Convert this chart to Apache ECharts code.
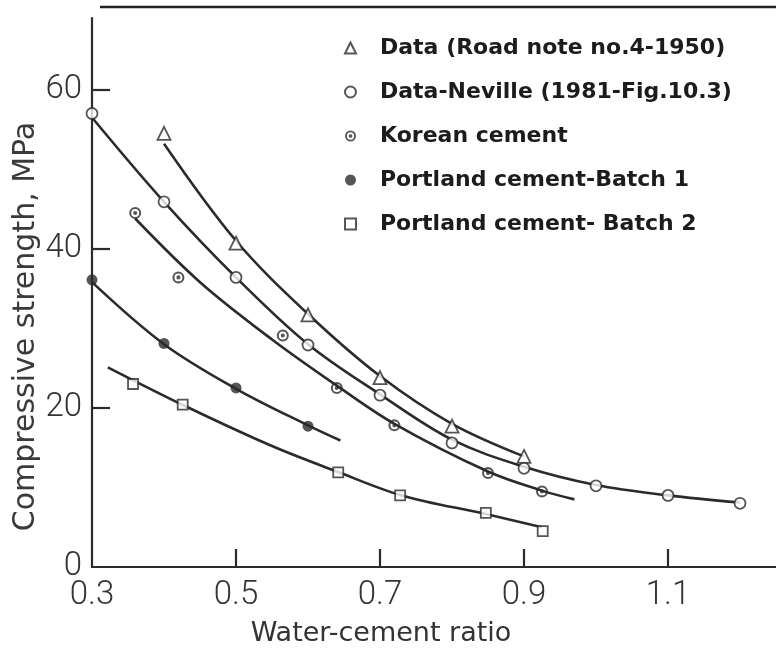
<!DOCTYPE html>
<html>
<head>
<meta charset="utf-8">
<script src="https://cdn.jsdelivr.net/npm/echarts@6/dist/echarts.min.js"></script>
<style>
html,body{margin:0;padding:0;background:#fff;}
#chart{width:776px;height:650px;}
</style>
</head>
<body>
<div id="chart"></div>
<script>
// tick labels
var xTickLabels = [0.3, 0.5, 0.7, 0.9, 1.1];
var xTicks = [0.5, 0.7, 0.9, 1.1];
var yTickLabels = [0, 20, 40, 60];
var yTicks = [20, 40, 60];

var seriesNames = [
	'Data (Road note no.4-1950)',
	'Data-Neville (1981-Fig.10.3)',
	'Korean cement',
	'Portland cement-Batch 1',
	'Portland cement- Batch 2'
];

// measured points [w/c ratio, MPa]
var roadPts = [[0.4,54.5],[0.5,40.7],[0.6,31.7],[0.7,23.8],[0.8,17.7],[0.9,13.9]];
var nevillePts = [[0.3,57.0],[0.4,45.9],[0.5,36.4],[0.6,27.9],[0.7,21.6],[0.8,15.6],[0.9,12.4],[1.0,10.2],[1.1,9.0],[1.2,8.0]];
var koreanPts = [[0.36,44.5],[0.42,36.4],[0.565,29.1],[0.64,22.5],[0.72,17.8],[0.85,11.8],[0.925,9.5]];
var batch1Pts = [[0.3,36.1],[0.4,28.1],[0.5,22.5],[0.6,17.7]];
var batch2Pts = [[0.357,23.0],[0.426,20.4],[0.642,11.9],[0.728,9.0],[0.847,6.8],[0.926,4.5]];

// fitted curves as drawn in the figure
var roadCurve = [[0.4,53.2],[0.5,41.0],[0.6,31.8],[0.7,24.0],[0.8,18.0],[0.9,13.9]];
var nevilleCurve = [[0.3,56.5],[0.4,45.9],[0.5,36.4],[0.6,28.0],[0.7,21.7],[0.8,16.0],[0.9,12.6],[1.0,10.3],[1.1,9.0],[1.2,8.1]];
var koreanCurve = [[0.36,43.8],[0.45,35.8],[0.55,28.6],[0.64,22.8],[0.72,18.0],[0.85,12.0],[0.925,9.6],[0.97,8.5]];
var batch1Curve = [[0.3,35.8],[0.4,28.0],[0.5,22.4],[0.6,17.8],[0.645,15.9]];
var batch2Curve = [[0.322,25.1],[0.43,20.2],[0.55,15.2],[0.64,12.0],[0.73,9.0],[0.85,6.6],[0.925,5.0]];

var ink = '#2b2b2b';
// ring with a dot in the middle
var dotRing = 'path://M10,0 A10,10 0 1,1 10,20 A10,10 0 1,1 10,0 Z M10,3.4 A6.6,6.6 0 1,0 10,16.6 A6.6,6.6 0 1,0 10,3.4 Z M10,6.6 A3.4,3.4 0 1,1 10,13.4 A3.4,3.4 0 1,1 10,6.6 Z';

function curve(name, data){
	return {
		name: name, type: 'line', data: data, smooth: 0.35,
		showSymbol: false, silent: true, z: 2,
		lineStyle: {color: ink, width: 2.6}
	};
}
function marks(name, data, symbol, size, fill){
	return {
		name: name, type: 'scatter', data: data, symbol: symbol, symbolSize: size, z: 5,
		itemStyle: {color: fill, borderColor: ink, borderWidth: fill == ink ? 0 : 1.8}
	};
}

var myChart = echarts.init(document.getElementById('chart'));
var option = {
	backgroundColor: '#fff',
	animation: false,
	grid: {left: 92, right: 0, top: 18, bottom: 83, outerBoundsMode: 'none'},
	legend: {
		orient: 'vertical',
		left: 339,
		top: 32,
		itemWidth: 11,
		itemHeight: 11,
		itemGap: 22,
		textStyle: {fontFamily: 'DejaVu Sans', fontWeight: 'bold', fontSize: 22, color: '#1c1c1c', padding: [0,0,0,19]},
		data: [
			{name: seriesNames[0], icon: 'triangle', itemStyle: {color: '#fff', borderColor: ink, borderWidth: 2}},
			{name: seriesNames[1], icon: 'circle', itemStyle: {color: '#fff', borderColor: ink, borderWidth: 2}},
			{name: seriesNames[2], icon: dotRing, itemStyle: {color: ink, borderWidth: 0}},
			{name: seriesNames[3], icon: 'circle', itemStyle: {color: ink, borderWidth: 0}},
			{name: seriesNames[4], icon: 'rect', itemStyle: {color: '#fff', borderColor: ink, borderWidth: 2}}
		]
	},
	xAxis: {
		type: 'value', min: 0.3, max: 1.25,
		axisLine: {lineStyle: {color: ink, width: 2.2}},
		axisTick: {inside: true, length: 18, customValues: xTicks, lineStyle: {color: ink, width: 2.2}},
		axisLabel: {customValues: xTickLabels, margin: 12, fontSize: 33, color: '#333', fontFamily: 'Roboto', fontWeight: 300},
		splitLine: {show: false}
	},
	yAxis: {
		type: 'value', min: 0, max: 69,
		name: 'Compressive strength, MPa', nameLocation: 'middle', nameGap: 51, nameMoveOverlap: false,
		nameTextStyle: {fontSize: 30, color: '#3a3a3a', fontFamily: 'DejaVu Sans', padding: [0, 68, 0, 0]},
		axisLine: {lineStyle: {color: ink, width: 2.2}},
		axisTick: {inside: true, length: 18, customValues: yTicks, lineStyle: {color: ink, width: 2.2}},
		axisLabel: {customValues: yTickLabels, margin: 10, fontSize: 33, color: '#333', fontFamily: 'Roboto', fontWeight: 300},
		splitLine: {show: false}
	},
	graphic: [
		{type: 'line', shape: {x1: 100, y1: 7, x2: 776, y2: 7}, style: {stroke: '#222', lineWidth: 2.5}},
		{type: 'text', x: 381, y: 634, style: {text: 'Water-cement ratio', fontSize: 27, fontFamily: 'DejaVu Sans', fill: '#333', align: 'center', verticalAlign: 'middle'}}
	],
	series: [
		curve('c0', roadCurve),
		curve('c1', nevilleCurve),
		curve('c2', koreanCurve),
		curve('c3', batch1Curve),
		curve('c4', batch2Curve),
		marks(seriesNames[0], roadPts, 'triangle', 13, '#fff'),
		marks(seriesNames[1], nevillePts, 'circle', 11, '#fff'),
		marks(seriesNames[2], koreanPts, dotRing, 12, ink),
		marks(seriesNames[3], batch1Pts, 'circle', 11, ink),
		marks(seriesNames[4], batch2Pts, 'rect', 10, '#fff')
	]
};
myChart.setOption(option);
</script>
</body>
</html>
